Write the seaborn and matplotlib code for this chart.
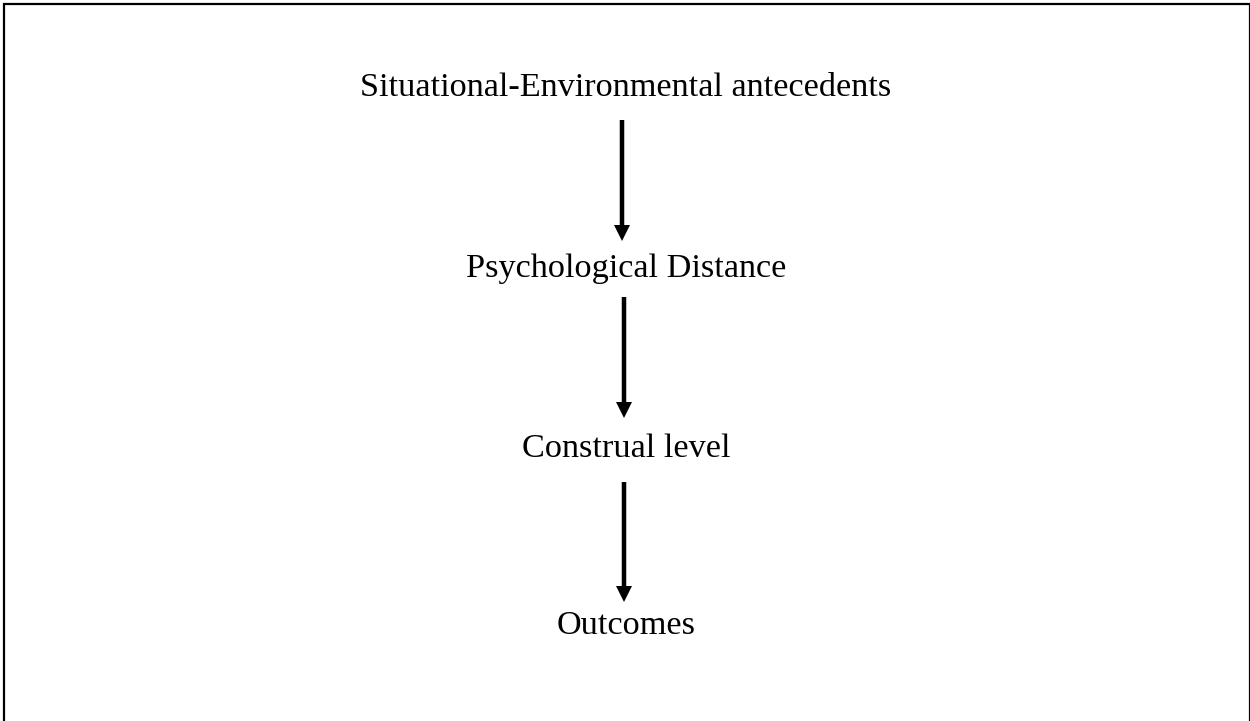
"""
Construal level flow diagram: antecedents -> distance -> construal -> outcomes
"""

import matplotlib
matplotlib.use('Agg')
import matplotlib.pyplot as plt
import seaborn as sns

# Stages of the model, top to bottom
stages = [
    'Situational-Environmental antecedents',
    'Psychological Distance',
    'Construal level',
    'Outcomes',
]

# Layout in pixel units (figure is 1250 x 721)
W, H = 1250, 721
text_x = 626
text_baseline = [96, 277, 457, 634]
arrow_x = [622, 624, 624]
arrow_top = [120, 297, 482]
arrow_tip = [241, 418, 602]


def main():
    sns.set_theme(style='white')
    plt.rcParams['font.family'] = ['Liberation Serif', 'DejaVu Serif']

    fig = plt.figure(figsize=(W / 100, H / 100), dpi=100)
    ax = fig.add_axes([0, 0, 1, 1])
    ax.set_xlim(0, W)
    ax.set_ylim(H, 0)
    ax.axis('off')

    # Frame, open at the bottom edge
    ax.plot([4, 4, 1249.5, 1249.5], [H + 5, 4, 4, H + 5],
            color='black', linewidth=1.6, solid_joinstyle='miter', clip_on=False)

    # Stage labels
    for label, y in zip(stages, text_baseline):
        ax.text(text_x, y, label, ha='center', va='baseline',
                fontsize=24.7, color='black')

    # Arrows between stages
    for x, y0, y1 in zip(arrow_x, arrow_top, arrow_tip):
        ax.arrow(x, y0, 0, y1 - y0, width=4.5, head_width=16, head_length=16,
                 length_includes_head=True, color='black', linewidth=0)

    plt.savefig('out.png', dpi=100)
    plt.close()


if __name__ == "__main__":
    main()
